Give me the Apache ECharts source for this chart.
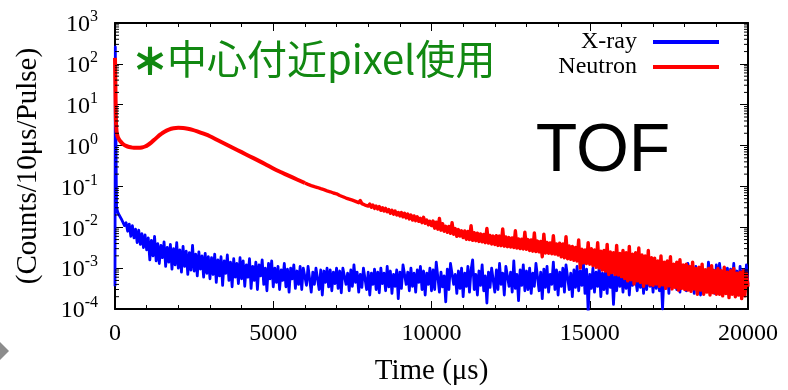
<!DOCTYPE html>
<html>
<head>
<meta charset="utf-8">
<script src="https://cdn.jsdelivr.net/npm/echarts@6/dist/echarts.min.js"></script>
<style>
  html, body { margin: 0; padding: 0; background: #fff; }
  #chart { width: 788px; height: 390px; }
</style>
</head>
<body>
<div id="chart"></div>
<script>
// ---- Time-of-flight spectra, counts per 10 µs bin per pulse ----

// X-ray: the prompt flash right at t = 0 (µs / counts)
const xrayHeadTimes  = [0, 10, 20, 30, 40];
const xrayHeadValues = [3.6e-4, 260, 20, 1.5, 0.15];

// X-ray tail, one value every 50 µs starting at 50 µs
const xrayTailStart = 50;
const xrayTailStep = 50;
const xrayTailValues = [
  3.0e-2, 2.2e-2, 2.0e-2, 1.6e-2, 1.5e-2, 1.1e-2, 1.3e-2, 8.0e-3, 1.2e-2, 6.0e-3, 1.1e-2, 5.5e-3, 9.0e-3, 4.2e-3, 8.5e-3, 3.8e-3, 7.0e-3, 3.2e-3, 6.5e-3, 2.8e-3,
  5.5e-3, 1.6e-3, 4.8e-3, 2.0e-3, 6.0e-3, 1.5e-3, 4.0e-3, 1.3e-3, 3.6e-3, 1.8e-3, 4.4e-3, 1.1e-3, 3.2e-3, 1.4e-3, 3.8e-3, 9.5e-4, 3.0e-3, 1.2e-3, 4.2e-3, 1.0e-3,
  2.8e-3, 8.0e-4, 3.4e-3, 1.1e-3, 2.6e-3, 7.0e-4, 2.4e-3, 9.0e-4, 3.6e-3, 8.5e-4, 2.2e-3, 6.5e-4, 2.5e-3, 9.5e-4, 2.0e-3, 6.0e-4, 2.3e-3, 7.5e-4, 1.9e-3, 5.5e-4,
  1.8e-3, 7.0e-4, 2.2e-3, 4.5e-4, 1.6e-3, 6.5e-4, 1.9e-3, 3.8e-4, 1.5e-3, 7.5e-4, 2.1e-3, 5.0e-4, 1.4e-3, 3.5e-4, 1.7e-3, 6.0e-4, 1.3e-3, 4.2e-4, 1.8e-3, 5.5e-4,
  1.5e-3, 3.6e-4, 1.2e-3, 6.0e-4, 1.7e-3, 3.2e-4, 1.1e-3, 5.0e-4, 1.4e-3, 3.0e-4, 1.2e-3, 6.5e-4, 1.6e-3, 4.0e-4, 1.0e-3, 2.8e-4, 1.3e-3, 5.5e-4, 1.5e-3, 3.5e-4,
  1.0e-3, 4.5e-4, 1.1e-3, 3.0e-4, 9.0e-4, 5.0e-4, 1.3e-3, 3.5e-4, 9.5e-4, 2.6e-4, 1.0e-3, 5.5e-4, 1.2e-3, 3.2e-4, 8.5e-4, 4.0e-4, 1.1e-3, 3.0e-4, 1.0e-3, 1.0e-3,
  3.8e-4, 1.1e-3, 1.1e-3, 2.6e-4, 8.0e-4, 4.0e-4, 1.0e-3, 1.0e-3, 3.0e-4, 9.0e-4, 2.2e-4, 8.5e-4, 4.5e-4, 1.0e-3, 3.5e-4, 9.0e-4, 2.8e-4, 8.0e-4, 4.2e-4, 1.0e-3,
  3.2e-4, 8.5e-4, 2.5e-4, 1.0e-3, 1.0e-3, 4.0e-4, 7.5e-4, 2.8e-4, 9.0e-4, 3.6e-4, 1.2e-3, 4.5e-4, 8.0e-4, 2.6e-4, 7.0e-4, 3.4e-4, 1.0e-3, 1.0e-3, 3.0e-4, 8.0e-4,
  2.2e-4, 7.5e-4, 4.0e-4, 9.5e-4, 3.0e-4, 8.0e-4, 2.5e-4, 1.0e-3, 4.2e-4, 7.5e-4, 2.8e-4, 1.1e-3, 3.5e-4, 8.5e-4, 2.4e-4, 7.0e-4, 3.6e-4, 9.0e-4, 1.8e-4, 8.0e-4,
  3.2e-4, 1.2e-3, 1.2e-3, 4.0e-4, 8.0e-4, 2.8e-4, 1.0e-3, 3.6e-4, 7.5e-4, 2.6e-4, 9.0e-4, 4.5e-4, 1.1e-3, 3.0e-4, 8.5e-4, 2.2e-4, 7.5e-4, 4.0e-4, 1.0e-3, 2.8e-4,
  9.0e-4, 3.0e-4, 1.4e-3, 1.4e-3, 2.6e-4, 8.0e-4, 3.5e-4, 6.5e-4, 1.5e-4, 9.5e-4, 3.0e-4, 1.3e-3, 1.3e-3, 4.0e-4, 7.0e-4, 2.4e-4, 8.5e-4, 3.2e-4, 1.0e-3, 2.0e-4,
  7.5e-4, 3.6e-4, 1.1e-3, 2.6e-4, 9.0e-4, 1.6e-3, 3.0e-4, 7.0e-4, 2.2e-4, 8.5e-4, 3.8e-4, 1.2e-3, 2.8e-4, 6.5e-4, 1.4e-4, 8.0e-4, 3.4e-4, 1.0e-3, 1.0e-3, 2.6e-4,
  9.0e-4, 3.0e-4, 1.3e-3, 4.0e-4, 7.5e-4, 2.2e-4, 1.1e-3, 1.1e-3, 3.6e-4, 8.0e-4, 2.6e-4, 1.5e-3, 3.2e-4, 7.0e-4, 1.6e-4, 9.0e-4, 3.8e-4, 1.2e-3, 2.8e-4, 8.5e-4,
  3.0e-4, 1.0e-3, 2.4e-4, 7.5e-4, 3.6e-4, 1.3e-3, 1.3e-3, 2.8e-4, 8.0e-4, 1.8e-4, 9.5e-4, 3.4e-4, 1.1e-3, 2.6e-4, 7.0e-4, 4.0e-4, 1.4e-3, 3.0e-4, 9.0e-4, 2.2e-4,
  8.0e-4, 3.6e-4, 1.0e-3, 2.6e-4, 1.2e-3, 1.2e-3, 3.0e-4, 7.5e-4, 2.0e-4, 9.0e-4, 3.4e-4, 1.1e-3, 2.8e-4, 8.5e-4, 3.8e-4, 1.3e-3, 2.4e-4, 9.5e-4, 8.5e-5, 7.0e-4,
  3.2e-4, 1.0e-3, 2.6e-4, 8.0e-4, 3.6e-4, 1.1e-3, 2.0e-4, 7.5e-4, 3.0e-4, 9.0e-4, 2.4e-4, 1.2e-3, 3.4e-4, 8.0e-4, 1.3e-4, 7.0e-4, 2.8e-4, 1.0e-3, 3.6e-4, 8.5e-4,
  2.6e-4, 9.0e-4, 3.2e-4, 1.1e-3, 2.2e-4, 8.0e-4, 3.8e-4, 1.0e-3, 1.0e-3, 2.8e-4, 7.5e-4, 3.4e-4, 9.5e-4, 2.4e-4, 8.5e-4, 3.0e-4, 1.2e-3, 3.6e-4, 8.0e-4, 2.6e-4,
  9.0e-4, 3.2e-4, 1.0e-3, 2.8e-4, 7.5e-4, 1.0e-4, 8.0e-4, 3.6e-4, 1.1e-3, 2.4e-4, 9.0e-4, 3.4e-4, 1.2e-3, 1.2e-3, 3.0e-4, 8.5e-4, 2.6e-4, 1.0e-3, 3.8e-4, 9.5e-4,
  2.8e-4, 1.3e-3, 1.3e-3, 3.2e-4, 8.0e-4, 2.4e-4, 1.1e-3, 3.6e-4, 9.0e-4, 2.2e-4, 1.0e-3, 3.4e-4, 8.5e-4, 2.8e-4, 1.4e-3, 1.4e-3, 3.0e-4, 9.0e-4, 2.4e-4, 1.2e-3,
  3.6e-4, 1.3e-3, 1.3e-3, 2.6e-4, 8.0e-4, 3.2e-4, 1.0e-3, 2.2e-4, 9.5e-4, 3.8e-4, 1.3e-3, 2.8e-4, 8.5e-4, 2.4e-4, 1.1e-3, 3.4e-4, 9.0e-4, 2.6e-4, 1.2e-3, 4.0e-4
];

// Neutron: prompt peak, dip and thermal hump (µs / counts)
const neutronHeadTimes = [
  0, 10, 20, 30, 50, 80, 120, 180, 260, 350, 450, 550, 650, 750, 850, 950, 1050, 1150, 1250, 1350,
  1450, 1550, 1700, 1850, 2000, 2150, 2300, 2450, 2600, 2800, 3000, 3250, 3500, 3750, 4000, 4250, 4500, 4750, 5000, 5250,
  5500, 5750, 6000
];
const neutronHeadValues = [
  140, 40, 10, 4, 2.2, 1.7, 1.45, 1.25, 1.08, 0.98, 0.92, 0.89, 0.88, 0.88, 0.9, 0.95, 1.05, 1.2, 1.4, 1.65,
  1.9, 2.15, 2.45, 2.65, 2.72, 2.7, 2.58, 2.42, 2.22, 1.95, 1.69, 1.35, 1.08, 0.86, 0.69, 0.55, 0.44, 0.35, 0.275, 0.222,
  0.181, 0.148, 0.121
];

// Neutron tail, one value every 50 µs starting at 6050 µs
const neutronTailStart = 6050;
const neutronTailStep = 50;
const neutronTailValues = [
  0.121, 0.112, 0.114, 0.105, 0.108, 0.099, 0.102, 0.094, 0.096, 0.088, 0.090, 0.083, 0.085, 0.078, 0.080, 0.074, 0.076, 0.069, 0.071, 0.066,
  0.068, 0.060, 0.064, 0.056, 0.060, 0.052, 0.057, 0.049, 0.053, 0.046, 0.050, 0.043, 0.047, 0.040, 0.045, 0.038, 0.041, 0.035, 0.039, 0.033,
  0.037, 0.031, 0.035, 0.029, 0.033, 0.028, 0.032, 0.026, 0.030, 0.025, 0.029, 0.024, 0.027, 0.022, 0.026, 0.021, 0.025, 0.020, 0.023, 0.019,
  0.023, 0.018, 0.022, 0.017, 0.021, 0.016, 0.020, 0.015, 0.019, 0.0145, 0.018, 0.014, 0.0165, 0.013, 0.0175, 0.0125, 0.015, 0.0115, 0.014, 0.011,
  1.42e-2, 9.5e-3, 1.33e-2, 9.0e-3, 1.65e-2, 8.5e-3, 1.23e-2, 8.0e-3, 1.06e-2, 7.5e-3, 1.05e-2, 7.1e-3, 1.30e-2, 6.7e-3, 9.3e-3, 6.0e-3, 8.8e-3, 6.1e-3, 8.2e-3, 5.6e-3,
  8.1e-3, 5.1e-3, 7.9e-3, 5.0e-3, 1.1e-2, 4.8e-3, 7.4e-3, 4.7e-3, 7.2e-3, 4.5e-3, 6.9e-3, 4.4e-3, 6.7e-3, 4.2e-3, 9.4e-3, 4.1e-3, 6.3e-3, 3.9e-3, 6.1e-3, 3.8e-3,
  6.2e-3, 3.6e-3, 6.1e-3, 3.55e-3, 9.1e-3, 3.45e-3, 5.8e-3, 3.35e-3, 5.6e-3, 3.3e-3, 5.5e-3, 3.2e-3, 8.2e-3, 3.1e-3, 5.2e-3, 3.0e-3, 5.1e-3, 2.95e-3, 7.6e-3, 2.9e-3,
  5.0e-3, 2.7e-3, 4.9e-3, 2.6e-3, 7.3e-3, 2.55e-3, 4.6e-3, 2.5e-3, 4.5e-3, 1.9e-3, 6.8e-3, 2.35e-3, 4.25e-3, 2.3e-3, 4.15e-3, 2.25e-3, 6.2e-3, 2.2e-3, 3.9e-3, 2.1e-3,
  4.1e-3, 1.9e-3, 3.9e-3, 1.8e-3, 5.9e-3, 1.7e-3, 3.5e-3, 1.65e-3, 3.4e-3, 1.55e-3, 3.2e-3, 1.5e-3, 4.9e-3, 1.0e-3, 2.9e-3, 1.35e-3, 2.8e-3, 1.3e-3, 4.2e-3, 1.25e-3,
  3.0e-3, 1.15e-3, 2.8e-3, 1.05e-3, 4.2e-3, 1.0e-3, 2.6e-3, 9.0e-4, 2.7e-3, 8.5e-4, 3.8e-3, 7.0e-4, 2.5e-3, 7.8e-4, 2.4e-3, 7.0e-4, 3.6e-3, 6.8e-4, 2.3e-3, 6.2e-4,
  2.7e-3, 5.6e-4, 2.4e-3, 4.9e-4, 3.4e-3, 5.2e-4, 2.2e-3, 4.1e-4, 2.4e-3, 4.9e-4, 3.1e-3, 4.5e-4, 2.1e-3, 3.6e-4, 2.0e-3, 4.3e-4, 2.7e-3, 3.9e-4, 1.8e-3, 3.8e-4,
  1.75e-3, 4.1e-4, 1.5e-3, 3.6e-4, 2.0e-3, 3.9e-4, 1.4e-3, 3.2e-4, 1.5e-3, 3.7e-4, 1.9e-3, 3.1e-4, 1.25e-3, 3.4e-4, 1.4e-3, 2.9e-4, 1.6e-3, 3.2e-4, 1.2e-3, 3.0e-4,
  1.25e-3, 2.9e-4, 1.1e-3, 2.7e-4, 1.4e-3, 3.1e-4, 9.8e-4, 2.3e-4, 1.05e-3, 2.9e-4, 1.25e-3, 2.3e-4, 9.2e-4, 2.6e-4, 9.8e-4, 2.2e-4, 1.15e-3, 2.5e-4, 8.6e-4, 2.3e-4,
  9.8e-4, 2.3e-4, 8.6e-4, 2.1e-4, 1.05e-3, 2.4e-4, 8.0e-4, 1.9e-4, 8.6e-4, 2.3e-4, 9.8e-4, 2.0e-4, 7.5e-4, 2.2e-4, 8.0e-4, 1.8e-4, 8.6e-4, 2.1e-4, 7.5e-4, 3.5e-4
];

// Axis ranges and ticks
const timeMin = 0, timeMax = 20000, timeTickStep = 5000;
const countMin = 1e-4, countMax = 1e3;
const decadeExponents = [-4, -3, -2, -1, 0, 1, 2];

const seriesNames = ['X-ray', 'Neutron'];
const axisTitleX = 'Time (μs)';
const axisTitleY = '(Counts/10μs/Pulse)';
const noteMark = '＊';
const noteText = '中心付近pixel使用';
const panelText = 'TOF';

// ---- build [time, value] pairs ----
function headPairs(times, values) {
  return times.map((t, i) => [t, values[i]]);
}
function tailPairs(start, step, values) {
  return values.map((v, i) => [start + i * step, v]);
}
const xrayData = headPairs(xrayHeadTimes, xrayHeadValues)
  .concat(tailPairs(xrayTailStart, xrayTailStep, xrayTailValues));
const neutronHeadData = headPairs(neutronHeadTimes, neutronHeadValues);
const neutronTailData = [neutronHeadData[neutronHeadData.length - 1]]
  .concat(tailPairs(neutronTailStart, neutronTailStep, neutronTailValues));

// log minor tick positions: 2..9 × 10^n
const minorTickValues = [];
decadeExponents.forEach(n => {
  for (let k = 2; k <= 9; k++) minorTickValues.push([0, k * Math.pow(10, n)]);
});

const SERIF = '"Liberation Serif", "DejaVu Serif", serif';
const CJK = '"Noto Sans CJK JP", "Noto Sans", sans-serif';
const GREEN = '#118811';
const frame = { show: true, onZero: false, lineStyle: { color: '#000', width: 2 } };
const majorTick = { inside: true, length: 8, lineStyle: { color: '#000', width: 1 } };

const chart = echarts.init(document.getElementById('chart'), null, { renderer: 'canvas' });

chart.setOption({
  animation: false,
  backgroundColor: '#fff',
  grid: { left: 115, right: 40, top: 23, bottom: 81, containLabel: false, outerBoundsMode: 'none' },
  legend: {
    data: seriesNames,
    orient: 'vertical',
    align: 'right',
    right: 64,
    top: 25,
    itemWidth: 66,
    itemHeight: 4,
    itemGap: 1,
    icon: 'rect',
    selectedMode: false,
    textStyle: { fontFamily: SERIF, fontSize: 24, color: '#000', padding: [0, 11, 0, 0] }
  },
  xAxis: [
    {
      type: 'value', position: 'bottom', min: timeMin, max: timeMax, interval: timeTickStep,
      axisLine: frame,
      axisTick: majorTick,
      minorTick: { show: true, splitNumber: 5, length: 4, lineStyle: { color: '#000', width: 1 } },
      splitLine: { show: false },
      axisLabel: { color: '#000', fontFamily: SERIF, fontSize: 24, margin: 13, formatter: v => String(v) },
      name: axisTitleX, nameLocation: 'middle', nameGap: 48, nameMoveOverlap: false,
      nameTextStyle: { color: '#000', fontFamily: SERIF, fontSize: 29 }
    },
    {
      type: 'value', position: 'top', min: timeMin, max: timeMax, interval: timeTickStep,
      axisLine: frame,
      axisTick: majorTick,
      minorTick: { show: true, splitNumber: 5, length: 4, lineStyle: { color: '#000', width: 1 } },
      splitLine: { show: false },
      axisLabel: { show: false }
    }
  ],
  yAxis: [
    {
      type: 'log', logBase: 10, position: 'left', min: countMin, max: countMax, splitNumber: 7,
      axisLine: frame,
      axisTick: majorTick,
      splitLine: { show: false },
      axisLabel: {
        color: '#000', margin: 17,
        formatter: v => '{b|10}{s|' + Math.round(Math.log10(v)) + '}',
        rich: {
          b: { fontFamily: SERIF, fontSize: 24, color: '#000', verticalAlign: 'bottom' },
          s: { fontFamily: SERIF, fontSize: 16, color: '#000', verticalAlign: 'bottom', padding: [0, 0, 12, 0] }
        }
      },
      name: axisTitleY, nameLocation: 'middle', nameGap: 72, nameRotate: 90, nameMoveOverlap: false,
      nameTextStyle: { color: '#000', fontFamily: SERIF, fontSize: 29 }
    },
    {
      type: 'log', logBase: 10, position: 'right', min: countMin, max: countMax, splitNumber: 7,
      axisLine: frame,
      axisTick: majorTick,
      splitLine: { show: false },
      axisLabel: { show: false }
    }
  ],
  series: [
    {
      name: seriesNames[0], type: 'line', data: xrayData, xAxisIndex: 0, yAxisIndex: 0,
      showSymbol: false, symbol: 'none', color: '#0000ff',
      lineStyle: { color: '#0000ff', width: 2.8, join: 'round' }
    },
    {
      name: seriesNames[1], type: 'line', data: neutronHeadData, xAxisIndex: 0, yAxisIndex: 0,
      showSymbol: false, symbol: 'none', color: '#ff0000', smooth: 0.3,
      lineStyle: { color: '#ff0000', width: 4, join: 'round' }
    },
    {
      name: seriesNames[1], type: 'line', data: neutronTailData, xAxisIndex: 0, yAxisIndex: 0,
      showSymbol: false, symbol: 'none', color: '#ff0000',
      lineStyle: { color: '#ff0000', width: 3.4, join: 'round' }
    },
    {
      // minor ticks of the log axis, drawn inward from both vertical frame edges
      type: 'custom', xAxisIndex: 0, yAxisIndex: 0, silent: true, z: 5,
      data: minorTickValues,
      renderItem: (params, api) => {
        const y = api.coord([0, api.value(1)])[1];
        const cs = params.coordSys;
        const st = { stroke: '#000', lineWidth: 1 };
        return {
          type: 'group',
          children: [
            { type: 'line', shape: { x1: cs.x, y1: y, x2: cs.x + 4, y2: y }, style: st },
            { type: 'line', shape: { x1: cs.x + cs.width, y1: y, x2: cs.x + cs.width - 4, y2: y }, style: st }
          ]
        };
      }
    }
  ],
  graphic: [
    {
      type: 'text', x: 133, y: 59,
      style: {
        text: '{m|' + noteMark + '}{t|' + noteText + '}',
        verticalAlign: 'middle', align: 'left',
        rich: {
          m: { fontFamily: CJK, fontSize: 34, fill: GREEN, stroke: GREEN, lineWidth: 2.2, padding: [4, 0, 0, 0] },
          t: { fontFamily: CJK, fontSize: 40, fill: GREEN }
        }
      }
    },
    {
      type: 'text', x: 603, y: 152,
      style: { text: panelText, font: '68px "Liberation Sans", Arial, sans-serif', fill: '#000', verticalAlign: 'middle', align: 'center' }
    },
    {
      type: 'polygon',
      shape: { points: [[0, 342], [9, 351], [0, 360], [-9, 351]] },
      style: { fill: '#8c8c8c' }
    }
  ]
});
</script>
</body>
</html>
